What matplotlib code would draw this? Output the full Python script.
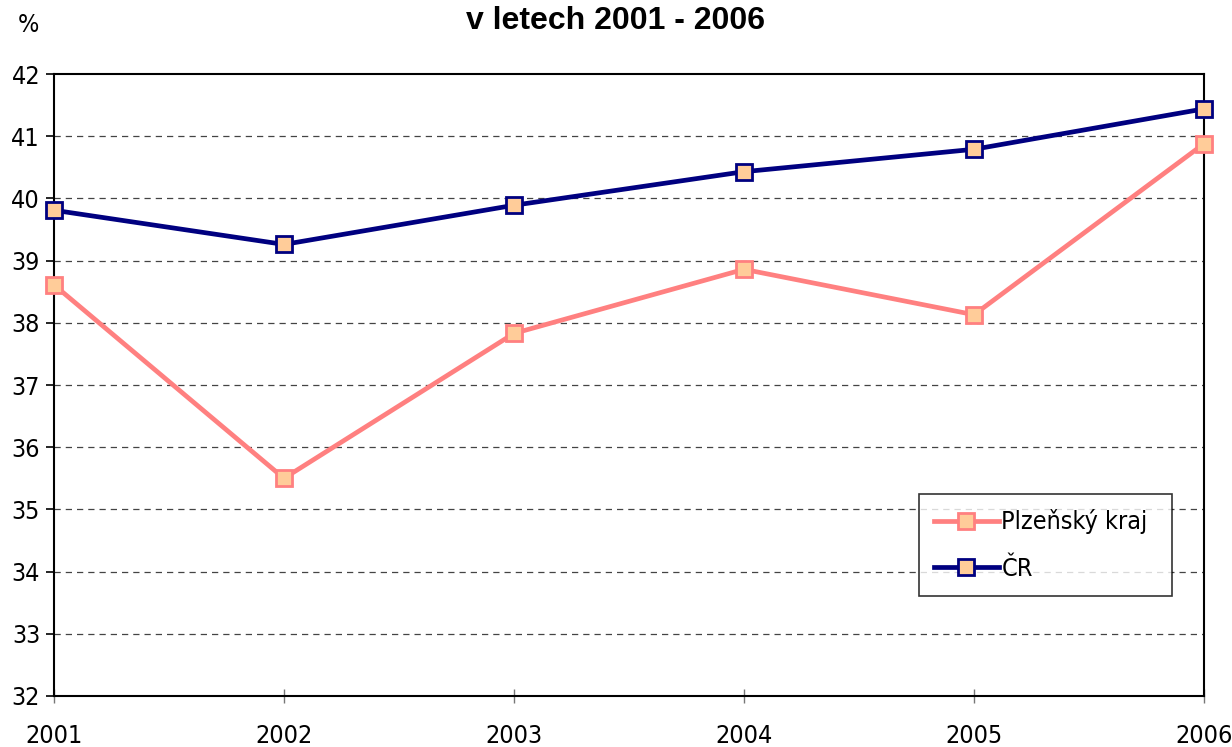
import matplotlib
matplotlib.use("Agg")
import matplotlib.pyplot as plt

years = [2001, 2002, 2003, 2004, 2005, 2006]
plzen = [38.61, 35.50, 37.83, 38.86, 38.13, 40.88]
cr = [39.81, 39.26, 39.89, 40.43, 40.79, 41.44]
yticks = list(range(32, 43))

narrow = dict(family="DejaVu Sans", stretch="condensed", size=18)

fig = plt.figure(figsize=(12.32, 7.47), dpi=100)
ax = fig.add_axes([0.0438, 0.0683, 0.9335, 0.8326])

ax.plot(years, plzen, color="#FF8080", lw=3.4, marker="s", ms=11,
        mfc="#FFCC99", mec="#FF8080", mew=2, label="Plzeňský kraj", zorder=3, clip_on=False)
ax.plot(years, cr, color="#000080", lw=3.4, marker="s", ms=11,
        mfc="#FFCC99", mec="#000080", mew=2, label="ČR", zorder=4, clip_on=False)

ax.set_xlim(2001, 2006)
ax.set_ylim(32, 42)
ax.set_yticks(yticks)
ax.set_xticks(years)
for y in yticks[1:-1]:
    ax.axhline(y, color="#444444", lw=0.9, ls=(0, (5, 4)), zorder=1)

for s in ax.spines.values():
    s.set_linewidth(1.5)
    s.set_color("black")
ax.tick_params(axis="y", direction="out", length=6, width=1.2, pad=4)
ax.tick_params(axis="x", direction="inout", length=10, width=1, color="#777777", pad=15)
for lab in ax.get_xticklabels() + ax.get_yticklabels():
    lab.set_fontfamily(narrow["family"])
    lab.set_fontstretch(narrow["stretch"])
    lab.set_fontsize(narrow["size"])

fig.text(0.5, 0.972, "v letech 2001 - 2006", ha="center", va="center",
         fontsize=23, fontweight="bold", family="Liberation Sans")
fig.text(0.023, 0.966, "%", ha="center", va="center", **narrow)

leg = ax.legend(loc="lower left", bbox_to_anchor=(0.752, 0.161, 0.22, 0.164), mode="expand",
                borderaxespad=0, frameon=True, fancybox=False, edgecolor="black",
                borderpad=0.6, labelspacing=0.9, handlelength=2.6, handletextpad=0.1,
                prop=narrow)
leg.get_frame().set_linewidth(1.2)

fig.savefig("out.png", dpi=100)
